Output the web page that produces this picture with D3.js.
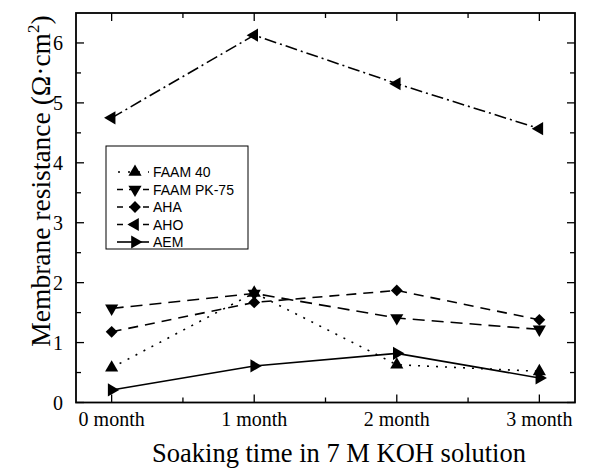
<!DOCTYPE html>
<html>
<head>
<meta charset="utf-8">
<script src="https://cdn.jsdelivr.net/npm/d3@7"></script>
<style>
  body { margin: 0; background: #fff; }
  svg { display: block; }
</style>
</head>
<body>
<svg id="chart" width="607" height="469"></svg>
<script>
// data
var months = ["0 month", "1 month", "2 month", "3 month"];
var faam40 = [0.58, 1.83, 0.63, 0.52];
var faamPK75 = [1.57, 1.82, 1.41, 1.22];
var aha = [1.18, 1.67, 1.87, 1.38];
var aho = [4.75, 6.13, 5.32, 4.57];
var aem = [0.21, 0.61, 0.82, 0.41];
var yTicks = [0, 1, 2, 3, 4, 5, 6];

var series = [
    { name: "FAAM 40", values: faam40, dash: "2,7", shape: "up" },
    { name: "FAAM PK-75", values: faamPK75, dash: "12,7", shape: "down" },
    { name: "AHA", values: aha, dash: "10,7", shape: "diamond" },
    { name: "AHO", values: aho, dash: "12,4,2,4", shape: "left" },
    { name: "AEM", values: aem, dash: null, shape: "right" }
];

var plotL = 76, plotR = 575, plotT = 13, plotB = 402.5;
var svg = d3.select("#chart");

var x = d3.scaleLinear().domain([-0.25, 3.25]).range([plotL, plotR]);
var y = d3.scaleLinear().domain([0, 6.5]).range([plotB, plotT]);

function marker(shape) {
    if (shape === "diamond") return { path: d3.symbol(d3.symbolSquare, 70)(), rot: 45 };
    var rot = { up: 0, down: 180, left: -90, right: 90 }[shape];
    return { path: d3.symbol(d3.symbolTriangle, 75)(), rot: rot };
}

var serif = "'Liberation Serif', 'Times New Roman', serif";

// axes, ticks inside on all four sides
var g = svg.append("g");
var majorX = [0, 1, 2, 3];
var minorX = [0.5, 1.5, 2.5];
var minorY = d3.range(0.5, 6.5, 1);

function vTicks(vals, y0, len) {
    g.selectAll(null).data(vals).enter().append("line")
        .attr("x1", d => x(d)).attr("x2", d => x(d))
        .attr("y1", y0).attr("y2", y0 + len);
}
function hTicks(vals, x0, len) {
    g.selectAll(null).data(vals).enter().append("line")
        .attr("x1", x0).attr("x2", x0 + len)
        .attr("y1", d => y(d)).attr("y2", d => y(d));
}
vTicks(majorX, plotB, -8); vTicks(minorX, plotB, -5);
vTicks(majorX, plotT, 8); vTicks(minorX, plotT, 5);
hTicks(yTicks, plotL, 8); hTicks(minorY, plotL, 5);
hTicks(yTicks, plotR, -8); hTicks(minorY, plotR, -5);
g.selectAll("line").attr("stroke", "#000").attr("stroke-width", 1.3);

svg.append("rect")
    .attr("x", plotL).attr("y", plotT)
    .attr("width", plotR - plotL).attr("height", plotB - plotT)
    .attr("fill", "none").attr("stroke", "#000").attr("stroke-width", 1.8);

svg.selectAll(".ylab").data(yTicks).enter().append("text")
    .attr("x", plotL - 13).attr("y", d => y(d) + 7)
    .attr("text-anchor", "end")
    .style("font-family", serif).style("font-size", "20px")
    .text(d => d);

svg.selectAll(".xlab").data(months).enter().append("text")
    .attr("x", (d, i) => x(i)).attr("y", 426)
    .attr("text-anchor", "middle")
    .style("font-family", serif).style("font-size", "20px")
    .text(d => d);

svg.append("text")
    .attr("x", 339).attr("y", 462)
    .attr("text-anchor", "middle")
    .style("font-family", serif).style("font-size", "26.5px")
    .text("Soaking time in 7 M KOH solution");

var yt = svg.append("text")
    .attr("transform", "translate(50,181) rotate(-90)")
    .attr("text-anchor", "middle")
    .style("font-family", serif).style("font-size", "27.5px");
yt.append("tspan").text("Membrane resistance (Ω·cm");
yt.append("tspan").attr("dy", -11).style("font-size", "17px").text("2");
yt.append("tspan").attr("dy", 11).text(")");

// lines and markers
var line = d3.line().x((d, i) => x(i)).y(d => y(d));

series.forEach(function (s) {
    svg.append("path")
        .attr("d", line(s.values))
        .attr("fill", "none").attr("stroke", "#000")
        .attr("stroke-width", 1.6)
        .attr("stroke-dasharray", s.dash);
    var m = marker(s.shape);
    svg.selectAll(null).data(s.values).enter().append("path")
        .attr("d", m.path)
        .attr("transform", (d, i) => "translate(" + x(i) + "," + y(d) + ") rotate(" + m.rot + ")")
        .attr("fill", "#000");
});

// legend
var lg = svg.append("g");
lg.append("rect")
    .attr("x", 106).attr("y", 146).attr("width", 142).attr("height", 103)
    .attr("fill", "#fff").attr("stroke", "#000").attr("stroke-width", 1);

var rowY = d3.scaleLinear().domain([0, 4]).range([172, 242]);
series.forEach(function (s, i) {
    var yy = rowY(i);
    lg.append("line")
        .attr("x1", 117).attr("x2", 149).attr("y1", yy).attr("y2", yy)
        .attr("stroke", "#000").attr("stroke-width", 1.6)
        .attr("stroke-dasharray", s.dash ? (s.shape === "up" ? "2,8" : "8,6") : null)
        .attr("stroke-dashoffset", s.shape === "up" ? -1 : 2);
    var m = marker(s.shape);
    lg.append("path")
        .attr("d", m.path)
        .attr("transform", "translate(135," + yy + ") rotate(" + m.rot + ")")
        .attr("fill", "#000");
    lg.append("text")
        .attr("x", 153).attr("y", yy + 5)
        .style("font-family", "'Liberation Sans', Arial, sans-serif")
        .style("font-size", "14px")
        .text(s.name);
});
</script>
</body>
</html>
